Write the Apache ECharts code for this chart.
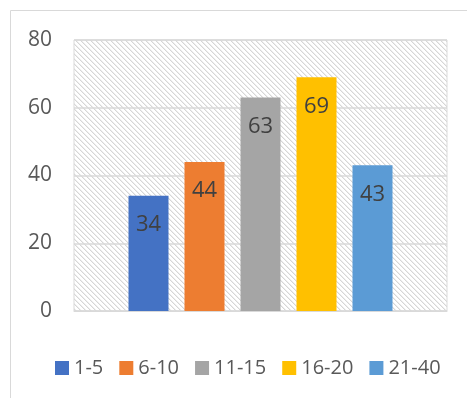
<!DOCTYPE html>
<html>
<head>
<meta charset="utf-8">
<script src="https://cdn.jsdelivr.net/npm/echarts@6/dist/echarts.min.js"></script>
<style>html,body{margin:0;padding:0;background:#fff;}#c{width:467px;height:398px;}</style>
</head>
<body>
<div id="c"></div>
<script>
const categories = ['1-5', '6-10', '11-15', '16-20', '21-40'];
const values = [34, 44, 63, 69, 43];
const colors = ['#4472C4', '#ED7D31', '#A5A5A5', '#FFC000', '#5B9BD5'];
const yMin = 0, yMax = 80, yInterval = 20;

// hatch pattern tile
const tile = document.createElement('canvas');
tile.width = 5; tile.height = 5;
const tc = tile.getContext('2d');
tc.fillStyle = '#ffffff';
tc.fillRect(0, 0, 5, 5);
for (let i = 0; i < 5; i++) {
  tc.fillStyle = '#d6d6d6';
  tc.fillRect(i, i, 1, 1);
  tc.fillStyle = '#eeeeee';
  tc.fillRect((i + 1) % 5, i, 1, 1);
}

const chart = echarts.init(document.getElementById('c'), null, {renderer: 'canvas'});
const font = 'Open Sans';
chart.setOption({
  animation: false,
  textStyle: {fontFamily: font},
  graphic: [{
    type: 'rect', silent: true,
    shape: {x: 10.5, y: 10.5, width: 500, height: 500},
    style: {fill: 'none', stroke: '#d9d9d9', lineWidth: 1}
  }],
  grid: {
    left: 74, right: 20, top: 40, bottom: 87,
    show: true,
    borderColor: '#d9d9d9', borderWidth: 1,
    backgroundColor: {image: tile, repeat: 'repeat'}
  },
  legend: {
    data: categories,
    left: 50, top: 353,
    itemWidth: 14, itemHeight: 14, itemGap: 16,
    icon: 'rect',
    textStyle: {fontFamily: font, fontSize: 20, color: '#595959'}
  },
  xAxis: {
    type: 'category', data: [''],
    axisLine: {show: true, lineStyle: {color: '#d9d9d9', width: 1}},
    axisTick: {show: false}, axisLabel: {show: false}
  },
  yAxis: {
    type: 'value', min: yMin, max: yMax, interval: yInterval,
    axisLine: {show: false}, axisTick: {show: false},
    axisLabel: {fontFamily: font, fontSize: 21, color: '#595959', margin: 22},
    splitLine: {lineStyle: {color: '#d9d9d9', width: 1.5}}
  },
  series: categories.map((name, i) => ({
    name: name, type: 'bar',
    data: [values[i]],
    barWidth: 40, barGap: '40%',
    itemStyle: {color: colors[i]},
    label: {
      show: true, position: 'insideTop', distance: 18,
      fontFamily: font, fontSize: 22, color: '#404040'
    }
  }))
});
</script>
</body>
</html>
